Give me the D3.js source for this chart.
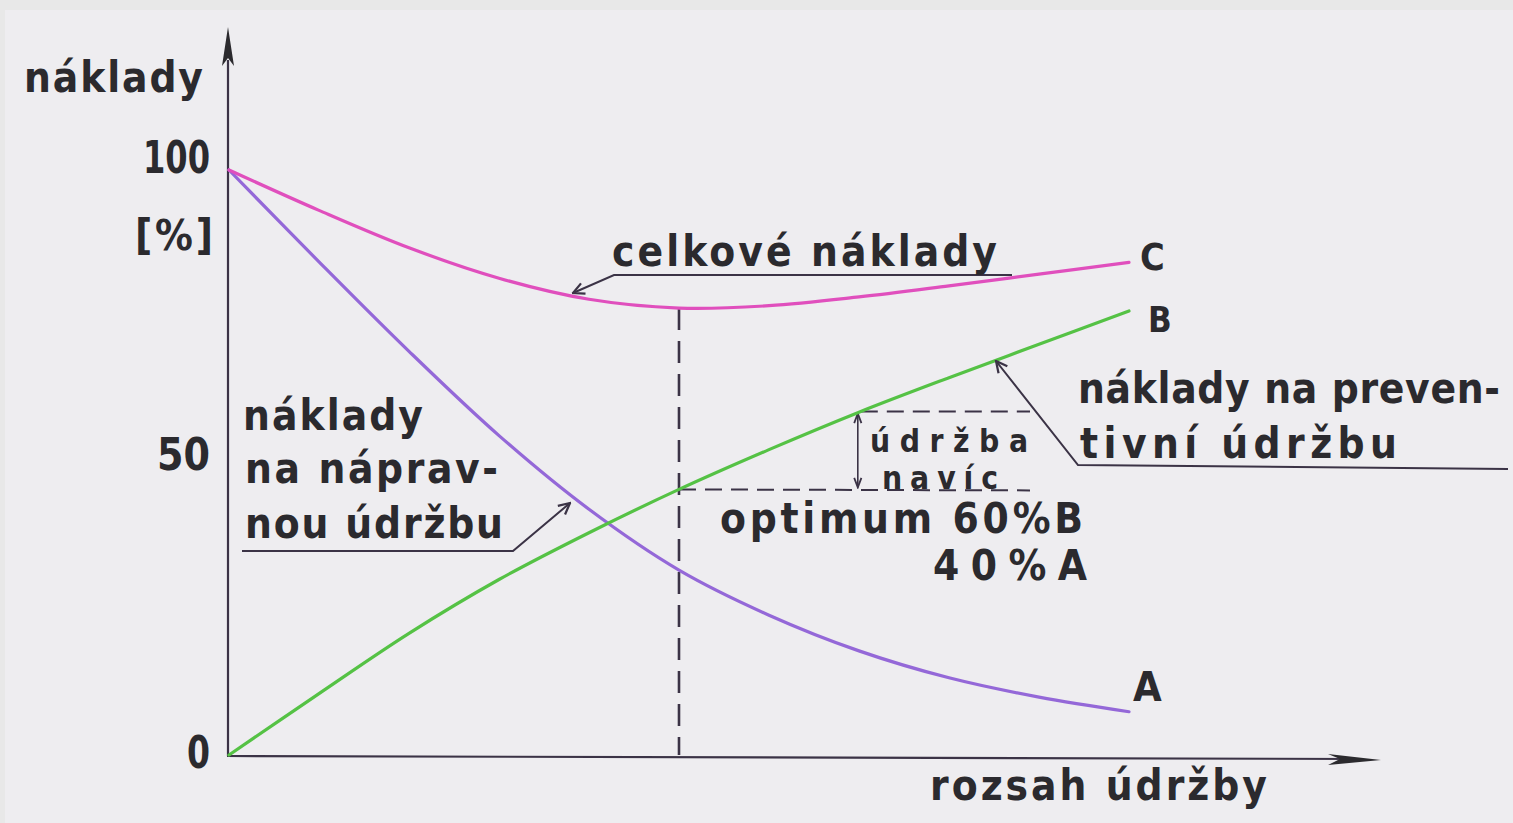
<!DOCTYPE html>
<html>
<head>
<meta charset="utf-8">
<script src="https://cdn.jsdelivr.net/npm/d3@7"></script>
<style>
  html, body { margin: 0; padding: 0; background: #e8e8e8; }
  svg { display: block; }
</style>
</head>
<body>
<svg id="chart" width="1513" height="823"></svg>
<script>
// ---- data ----
// x: rozsah údržby (0..100 relative), y: náklady [%]
const xValues  = [0, 10, 20, 30, 40, 50, 60, 70, 80, 90, 100];
const seriesA  = [100, 84.3, 69.0, 54.6, 42.0, 31.6, 23.9, 17.8, 13.2, 9.9, 7.4];   // náklady na nápravnou údržbu
const seriesB  = [0, 10.5, 20.8, 30.0, 38.0, 45.4, 52.2, 58.6, 64.5, 70.2, 75.9];   // náklady na preventivní údržbu
const seriesC  = [100, 93.1, 86.7, 81.5, 77.9, 76.4, 76.8, 78.3, 80.2, 82.2, 84.2]; // celkové náklady
const seriesNames = ["A", "B", "C"];
const yTickValues = [0, 50, 100];
const yTickLabels = ["0", "50", "100"];
const optimumX = 50;        // optimum point on x
const extraX = 70.2;        // x where the "údržba navíc" bracket sits

// ---- layout ----
const svg = d3.select("#chart");
const W = 1513, H = 823;
const x = d3.scaleLinear().domain([0, 100]).range([229, 1129]);
const y = d3.scaleLinear().domain([0, 100]).range([755, 170]);

const ink = "#2b2a2e";
const lineInk = "#3b3346";
const colA = "#9468d8", colB = "#55c245", colC = "#e04fbd";
const font = "'DejaVu Sans Condensed', 'DejaVu Sans', sans-serif";

// paper
svg.append("rect").attr("x", 0).attr("y", 0).attr("width", W).attr("height", H).attr("fill", "#e8e8e8");
svg.append("rect").attr("x", 5).attr("y", 10).attr("width", W - 5).attr("height", H - 10).attr("fill", "#eeedf0");

// markers
const defs = svg.append("defs");
defs.append("marker").attr("id", "hook").attr("viewBox", "0 0 10 10")
  .attr("refX", 9).attr("refY", 5).attr("markerWidth", 14).attr("markerHeight", 14)
  .attr("markerUnits", "userSpaceOnUse").attr("orient", "auto")
  .append("path").attr("d", "M1,1 L9,5 L1,9").attr("fill", "none")
  .attr("stroke", lineInk).attr("stroke-width", 1.6);
defs.append("marker").attr("id", "dbl").attr("viewBox", "0 0 10 10")
  .attr("refX", 9).attr("refY", 5).attr("markerWidth", 12).attr("markerHeight", 12)
  .attr("markerUnits", "userSpaceOnUse").attr("orient", "auto-start-reverse")
  .append("path").attr("d", "M1,2 L9,5 L1,8").attr("fill", "none")
  .attr("stroke", lineInk).attr("stroke-width", 1.5);

// axes (arrows)
const x0 = x(0), yBase = y(0);
svg.append("line").attr("x1", x0 - 1).attr("y1", yBase + 1).attr("x2", x0 - 1).attr("y2", 60)
  .attr("stroke", lineInk).attr("stroke-width", 2.2);
svg.append("path").attr("d", `M${x0 - 1},27 L${x0 - 7},66 L${x0 - 1},58 L${x0 + 5},66 Z`).attr("fill", ink);
svg.append("line").attr("x1", x0 - 2).attr("y1", yBase + 1).attr("x2", 1360).attr("y2", yBase + 4)
  .attr("stroke", lineInk).attr("stroke-width", 2.2);
svg.append("path").attr("d", `M1381,${yBase + 5} L1328,${yBase - 1} L1340,${yBase + 4} L1328,${yBase + 10} Z`).attr("fill", ink);

// y tick labels
const yLabelPos = {0: [187, 768, 23], 50: [157, 470, 53], 100: [143, 173, 67]};
yTickValues.forEach((v, i) => {
  const p = yLabelPos[v];
  svg.append("text").attr("x", p[0]).attr("y", p[1]).attr("textLength", p[2])
    .attr("lengthAdjust", "spacingAndGlyphs")
    .attr("font-family", font).attr("font-weight", "bold").attr("font-size", 44)
    .attr("fill", ink).text(yTickLabels[i]);
});

// values at optimum / bracket, read from the series
const idxOpt = xValues.indexOf(optimumX);
const optimumC = seriesC[idxOpt];
const optimumB = seriesB[idxOpt];
const extraB = d3.scaleLinear().domain(xValues).range(seriesB)(extraX);

// optimum dashed guides
svg.append("line").attr("x1", x(optimumX)).attr("x2", x(optimumX))
  .attr("y1", y(optimumC)).attr("y2", y(0))
  .attr("stroke", lineInk).attr("stroke-width", 2.6).attr("stroke-dasharray", "22,11");
svg.append("line").attr("x1", x(optimumX)).attr("x2", 1030)
  .attr("y1", y(optimumB)).attr("y2", y(optimumB) + 1)
  .attr("stroke", lineInk).attr("stroke-width", 2).attr("stroke-dasharray", "17,9");
svg.append("line").attr("x1", x(extraX)).attr("x2", 1030)
  .attr("y1", y(extraB)).attr("y2", y(extraB))
  .attr("stroke", lineInk).attr("stroke-width", 2).attr("stroke-dasharray", "17,9");
svg.append("line").attr("x1", x(extraX) - 3).attr("x2", x(extraX) - 3)
  .attr("y1", y(extraB) + 2).attr("y2", y(optimumB) - 2)
  .attr("stroke", lineInk).attr("stroke-width", 1.6)
  .attr("marker-start", "url(#dbl)").attr("marker-end", "url(#dbl)");

// curves
const line = d3.line().x(d => x(d[0])).y(d => y(d[1])).curve(d3.curveCatmullRom.alpha(0.5));
const series = [
  {name: seriesNames[0], ys: seriesA, color: colA},
  {name: seriesNames[1], ys: seriesB, color: colB},
  {name: seriesNames[2], ys: seriesC, color: colC}
];
series.forEach(s => {
  svg.append("path").datum(xValues.map((v, i) => [v, s.ys[i]]))
    .attr("d", line).attr("fill", "none").attr("stroke", s.color)
    .attr("stroke-width", 3.2).attr("stroke-linecap", "round");
});

// leader lines
function leader(pts) {
  svg.append("path").attr("d", d3.line()(pts)).attr("fill", "none")
    .attr("stroke", lineInk).attr("stroke-width", 2).attr("marker-end", "url(#hook)");
}
leader([[1012, 275], [614, 275], [573, 293]]);
leader([[242, 551], [513, 551], [570, 503]]);
leader([[1508, 469], [1078, 465], [996, 361]]);

// texts: fit natural width to target, then stretch spacing only
function txt(s, x0, yb, w, size) {
  let fs = size || 42;
  const t = svg.append("text").attr("x", x0).attr("y", yb)
    .attr("font-family", font).attr("font-weight", "bold").attr("font-size", fs)
    .attr("fill", ink).text(s);
  const nat = t.node().getComputedTextLength();
  if (nat > w) { fs = fs * w / nat * 0.99; t.attr("font-size", fs); }
  t.attr("textLength", w).attr("lengthAdjust", "spacing");
}
txt("náklady", 24, 92, 179);
txt("[%]", 135, 250, 78);
txt("celkové náklady", 612, 266, 385);
txt(seriesNames[2], 1140, 270, 25);
txt(seriesNames[1], 1148, 332, 24);
txt(seriesNames[0], 1133, 701, 29);
txt("náklady", 243, 430, 180);
txt("na náprav-", 245, 483, 253);
txt("nou údržbu", 245, 538, 258);
txt("údržba", 870, 452, 158, 31.5);
txt("navíc", 882, 489, 116, 31.5);
txt("optimum 60%B", 720, 533, 363);
txt("40%A", 933, 580, 154);
txt("náklady na preven-", 1078, 403, 422);
txt("tivní  údržbu", 1080, 458, 317);
txt("rozsah údržby", 930, 800, 337);
</script>
</body>
</html>
